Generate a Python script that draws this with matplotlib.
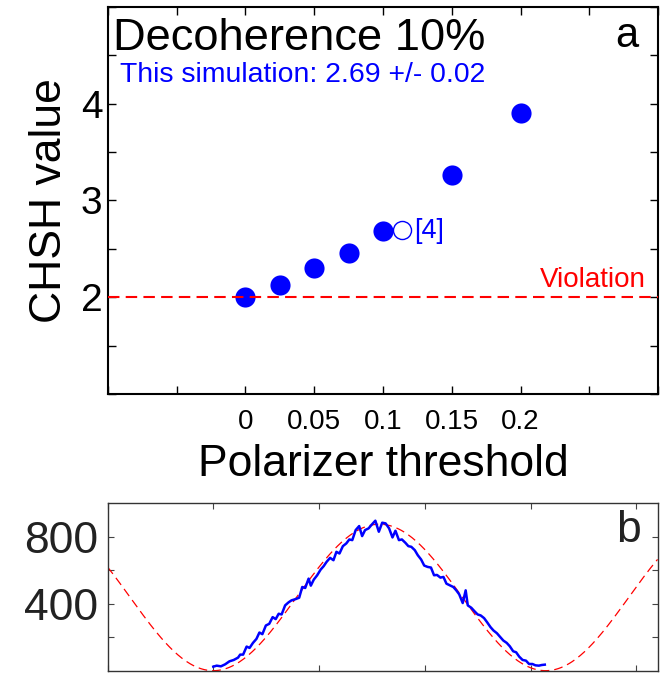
import numpy as np
import matplotlib
matplotlib.use("Agg")
import matplotlib.pyplot as plt

# --- panel a: CHSH vs polarizer threshold ---
threshold = [0.0, 0.025, 0.05, 0.075, 0.1, 0.15, 0.2]
chsh = [2.00, 2.13, 2.30, 2.46, 2.68, 3.26, 3.90]
ref_threshold = 0.114   # open circle, ref [4]
ref_chsh = 2.69
violation_level = 2.0
x_ticks = [-0.1, -0.05, 0, 0.05, 0.1, 0.15, 0.2, 0.25, 0.3]
x_labels = ['', '', '0', '0.05', '0.1', '0.15', '0.2', '', '']
y_ticks = [1, 1.5, 2, 2.5, 3, 3.5, 4, 4.5, 5]
y_labels = ['', '', '2', '', '3', '', '4', '', '']

# --- panel b: coincidence counts vs angle ---
angle = [1.000, 1.032, 1.072, 1.112, 1.153, 1.193, 1.234, 1.254, 1.282, 1.315,
         1.343, 1.375, 1.408, 1.436, 1.464, 1.497, 1.529, 1.561, 1.590, 1.618,
         1.646, 1.679, 1.711, 1.739, 1.780, 1.812, 1.841, 1.869, 1.901, 1.922,
         1.950, 1.982, 2.015, 2.043, 2.071, 2.104, 2.136, 2.164, 2.193, 2.225,
         2.257, 2.286, 2.314, 2.346, 2.379, 2.407, 2.435, 2.468, 2.500, 2.532,
         2.565, 2.597, 2.629, 2.662, 2.694, 2.722, 2.755, 2.783, 2.816, 2.844,
         2.872, 2.905, 2.933, 2.965, 2.994, 3.026, 3.058, 3.087, 3.115, 3.147,
         3.176, 3.204, 3.236, 3.269, 3.297, 3.325, 3.358, 3.386, 3.406, 3.439,
         3.471, 3.499, 3.528, 3.560, 3.588, 3.621, 3.649, 3.681, 3.714, 3.742,
         3.774, 3.803, 3.835, 3.863, 3.892, 3.924, 3.956, 3.985, 4.017, 4.045,
         4.078, 4.106, 4.134]
counts = [24, 30, 26, 38, 56, 64, 78, 96, 96, 144,
          136, 166, 190, 228, 218, 270, 280, 320, 308, 340,
          336, 390, 408, 420, 428, 436, 500, 494, 550, 508,
          544, 570, 604, 624, 650, 674, 660, 710, 700, 744,
          760, 784, 780, 840, 864, 804, 840, 850, 874, 896,
          830, 884, 880, 850, 796, 836, 780, 784, 764, 744,
          740, 720, 690, 664, 628, 620, 616, 570, 572, 556,
          560, 520, 510, 500, 480, 456, 404, 480, 390, 376,
          354, 336, 330, 314, 290, 260, 240, 224, 200, 180,
          166, 146, 116, 110, 84, 64, 60, 40, 40, 32,
          30, 34, 36]
# theoretical Malus-law curve
fit_amplitude = 875
fit_phase = 1.0

plt.rcParams['font.family'] = ['Liberation Sans', 'DejaVu Sans']

fig = plt.figure(figsize=(6.72, 6.94), dpi=100)
ax = fig.add_axes([0.1607, 0.4323, 0.8185, 0.5576])

ax.axhline(violation_level, color='red', linestyle=(0, (5.5, 3)), linewidth=1.5, zorder=3)
ax.plot(threshold, chsh, linestyle='none', marker='o', markersize=14.5,
        color='blue', markeredgewidth=0, zorder=2)
ax.plot([ref_threshold], [ref_chsh], linestyle='none', marker='o', markersize=13,
        markerfacecolor='white', markeredgecolor='blue', markeredgewidth=1.0)
ax.text(0.1225, 2.685, '[4]', color='blue', fontsize=19.5, va='center', ha='left')

ax.set_xlim(-0.1, 0.3)
ax.set_ylim(1, 5)
ax.set_xticks(x_ticks)
ax.set_xticklabels(x_labels, fontsize=20)
ax.set_yticks(y_ticks)
ax.set_yticklabels(y_labels, fontsize=28)
ax.tick_params(direction='in', top=True, right=True, length=6, width=1)
ax.tick_params(axis='x', pad=11)
ax.tick_params(axis='y', pad=4)
ax.set_xlabel('Polarizer threshold', fontsize=32, labelpad=6)
ax.set_ylabel('CHSH value', fontsize=32, labelpad=8)
for s in ax.spines.values():
    s.set_linewidth(1.5)

ax.text(0.01, 0.889, 'Decoherence 10%', transform=ax.transAxes, fontsize=32.6,
        ha='left', va='baseline')
ax.text(0.022, 0.806, 'This simulation: 2.69 +/- 0.02', transform=ax.transAxes,
        fontsize=20.4, color='blue', ha='left', va='baseline')
ax.text(0.964, 0.897, 'a', transform=ax.transAxes, fontsize=30, ha='right', va='baseline')
ax.text(0.978, 0.276, 'Violation', transform=ax.transAxes, fontsize=20, color='red',
        ha='right', va='baseline')

# --- panel b ---
bx = fig.add_axes([0.16, 0.0336, 0.8185, 0.2412])
xs = np.linspace(0, 5.2, 400)
bx.plot(xs, fit_amplitude * np.sin(xs - fit_phase) ** 2, color='red',
        linestyle=(0, (7, 4)), linewidth=0.9)
bx.plot(angle, counts, color='blue', linewidth=1.8)
bx.set_xlim(0, 5.2)
bx.set_ylim(0, 1000)
bx.set_xticks([0, 1, 2, 3, 4, 5])
bx.set_xticklabels([])
bx.set_yticks([200, 400, 600, 800])
bx.set_yticklabels(['', '400', '', '800'], fontsize=32, color='#222222')
bx.tick_params(direction='in', top=True, right=True, length=4, width=0.8,
               color='#444444', pad=7)
for s in bx.spines.values():
    s.set_linewidth(1.0)
    s.set_color('#333333')
bx.text(0.97, 0.77, 'b', transform=bx.transAxes, fontsize=32, ha='right',
        va='baseline', color='#222222')

fig.savefig('out.png', dpi=100)
